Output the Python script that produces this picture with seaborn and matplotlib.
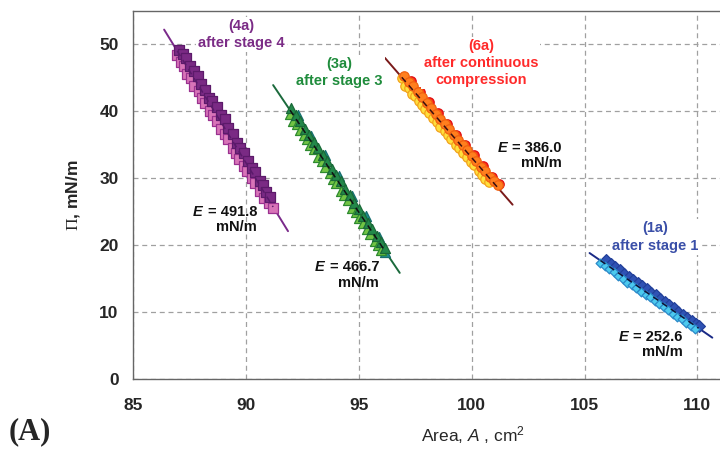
import numpy as np
import pandas as pd
import matplotlib
matplotlib.use("Agg")
import matplotlib.pyplot as plt
import seaborn as sns
from matplotlib.ticker import MultipleLocator

# ---------------- data ----------------
# (4a) after stage 4 : squares
A4_dark = [87.05, 87.2, 87.35, 87.5, 87.7, 87.85, 88.0, 88.2, 88.35, 88.5, 88.7, 88.9, 89.05,
           89.2, 89.4, 89.6, 89.75, 89.9, 90.1, 90.25, 90.4, 90.6, 90.75, 90.9, 91.05]
P4_dark = [49.2, 48.5, 47.9, 46.8, 46.0, 45.3, 44.1, 43.2, 42.0, 41.5, 40.6, 39.4, 38.8,
           37.5, 36.6, 35.3, 34.5, 33.7, 32.6, 31.5, 30.9, 29.6, 28.9, 27.9, 27.2]
A4_light = [86.95, 87.1, 87.25, 87.4, 87.55, 87.7, 87.9, 88.05, 88.2, 88.4, 88.55, 88.7, 88.9,
            89.05, 89.2, 89.4, 89.55, 89.7, 89.9, 90.05, 90.25, 90.4, 90.6, 90.8, 91.0, 91.2]
P4_light = [48.4, 47.4, 46.7, 45.6, 44.9, 43.8, 43.0, 41.9, 41.2, 40.1, 39.4, 38.5, 37.3,
            36.6, 35.8, 34.5, 33.8, 32.9, 31.8, 31.0, 30.0, 29.2, 28.1, 27.1, 26.3, 25.6]

# (3a) after stage 3 : triangles
A3_light = [91.95, 92.1, 92.25, 92.4, 92.55, 92.7, 92.85, 93.0, 93.2, 93.35, 93.5, 93.7, 93.85,
            94.0, 94.2, 94.35, 94.5, 94.7, 94.85, 95.0, 95.2, 95.35, 95.5, 95.7, 95.85, 96.0]
P3_light = [39.6, 38.6, 38.1, 37.2, 36.4, 35.9, 34.9, 34.3, 33.2, 32.6, 31.7, 30.8, 29.9,
            29.3, 28.1, 27.5, 26.8, 25.6, 25.0, 24.1, 23.3, 22.4, 21.7, 20.6, 20.0, 19.2]
A3_dark = [92.0, 92.2, 92.4, 92.6, 92.8, 93.0, 93.2, 93.4, 93.6, 93.8, 94.0, 94.2, 94.4,
           94.6, 94.8, 95.0, 95.2, 95.4, 95.6, 95.8, 96.0, 96.15]
P3_dark = [40.5, 39.4, 38.5, 37.4, 36.5, 35.4, 34.5, 33.4, 32.5, 31.4, 30.4, 29.5, 28.3,
           27.5, 26.3, 25.4, 24.4, 23.3, 22.4, 21.3, 20.4, 19.5]
A3_teal = [92.3, 92.9, 93.5, 94.1, 94.7, 95.3, 95.9, 96.15]
P3_teal = [39.4, 36.3, 33.4, 30.3, 27.3, 24.3, 21.2, 19.0]

# (6a) after continuous compression : circles
A6_yellow = [96.9, 97.05, 97.2, 97.35, 97.5, 97.65, 97.8, 97.95, 98.1, 98.3, 98.45, 98.6, 98.8,
             98.95, 99.1, 99.3, 99.45, 99.6, 99.8, 99.95, 100.1, 100.3, 100.45, 100.6, 100.75]
P6_yellow = [45.0, 43.8, 43.4, 42.6, 42.2, 41.5, 40.9, 40.4, 39.7, 39.0, 38.4, 37.7, 37.0,
             36.5, 35.8, 35.0, 34.5, 33.8, 33.1, 32.4, 31.9, 31.0, 30.5, 29.9, 29.4]
A6_orange = [97.0, 97.2, 97.4, 97.6, 97.8, 98.0, 98.2, 98.4, 98.6, 98.8, 99.0, 99.2, 99.4,
             99.6, 99.8, 100.0, 100.2, 100.4, 100.6, 100.8, 101.0, 101.15]
P6_orange = [45.3, 44.4, 43.7, 42.8, 42.1, 41.2, 40.5, 39.6, 38.9, 38.1, 37.3, 36.5, 35.7,
             34.9, 34.2, 33.3, 32.6, 31.7, 31.0, 30.2, 29.5, 29.0]
A6_red = [97.3, 97.7, 98.1, 98.5, 98.9, 99.3, 99.7, 100.1, 100.5, 100.9, 101.2]
P6_red = [44.5, 42.9, 41.3, 39.7, 38.1, 36.5, 34.9, 33.4, 31.8, 30.2, 29.1]

# (1a) after stage 1 : diamonds
A1_light = [105.7, 105.9, 106.1, 106.3, 106.5, 106.7, 106.9, 107.1, 107.3, 107.5, 107.7, 107.9,
            108.1, 108.3, 108.5, 108.7, 108.9, 109.1, 109.3, 109.5, 109.7, 109.9]
P1_light = [17.3, 16.8, 16.4, 15.9, 15.4, 15.0, 14.4, 14.0, 13.6, 13.0, 12.6, 12.2,
            11.6, 11.2, 10.7, 10.3, 9.7, 9.3, 8.9, 8.3, 7.9, 7.5]
A1_dark = [105.95, 106.15, 106.35, 106.55, 106.75, 106.95, 107.15, 107.35, 107.55, 107.75, 107.95,
           108.15, 108.35, 108.55, 108.75, 108.95, 109.15, 109.35, 109.55, 109.75, 109.95, 110.05]
P1_dark = [17.7, 17.1, 16.7, 16.3, 15.7, 15.3, 14.8, 14.3, 13.9, 13.4, 12.9,
           12.5, 11.9, 11.5, 11.0, 10.6, 10.0, 9.6, 9.1, 8.7, 8.2, 7.9]

series_labels = ["(4a)\nafter stage 4", "(3a)\nafter stage 3",
                 "(6a)\nafter continuous\ncompression", "(1a)\nafter stage 1"]
E_values = ["491.8", "466.7", "386.0", "252.6"]

x_ticks = [85, 90, 95, 100, 105, 110]
y_ticks = [0, 10, 20, 30, 40, 50]

# ---------------- style ----------------
sns.set_style("white")
plt.rcParams["font.family"] = ["Liberation Sans", "DejaVu Sans"]
plt.rcParams["mathtext.fontset"] = "custom"
plt.rcParams["mathtext.rm"] = "Liberation Serif"
plt.rcParams["mathtext.it"] = "Liberation Sans:italic"
plt.rcParams["mathtext.sf"] = "Liberation Sans"
plt.rcParams["mathtext.bf"] = "Liberation Sans:bold"

fig = plt.figure(figsize=(7.2, 4.5), dpi=100)
ax = fig.add_axes([0.185, 0.158, 0.815, 0.818])

groups = [
    # (A, P, marker, size, face, edge, group-id)
    (A4_light, P4_light, "s", 42, "#d874b8", "#9a3290", 0),
    (A4_dark, P4_dark, "s", 42, "#7a2a84", "#5c1a6a", 0),
    (A3_teal, P3_teal, "^", 52, "#1c8c8c", "#176f70", 1),
    (A3_light, P3_light, "^", 52, "#72c444", "#2e8a30", 1),
    (A3_dark, P3_dark, "^", 52, "#23884a", "#1a6a38", 1),
    (A6_red, P6_red, "o", 46, "#ff2a1e", "#e01010", 2),
    (A6_yellow, P6_yellow, "o", 46, "#ffdf3c", "#f2a21c", 2),
    (A6_orange, P6_orange, "o", 46, "#ff7f1e", "#f06010", 2),
    (A1_dark, P1_dark, "D", 36, "#2f52b4", "#22409a", 3),
    (A1_light, P1_light, "D", 20, "#4ccaee", "#2a88c8", 3),
]

line_colors = ["#7a2a8a", "#1b6a3c", "#7a1a1a", "#1a2a86"]
dash_colors = ["#5a1a6a", "#111111", "#3a1010", "#111133"]
extensions = [(0.58, 0.66), (0.75, 0.66), (0.75, 0.61), (0.48, 0.61)]

# fit lines from data
for gid in range(4):
    xs = np.concatenate([g[0] for g in groups if g[6] == gid])
    ys = np.concatenate([g[1] for g in groups if g[6] == gid])
    k, b = np.polyfit(xs, ys, 1)
    lo, hi = xs.min() - extensions[gid][0], xs.max() + extensions[gid][1]
    xx = np.array([lo, hi])
    sns.lineplot(x=xx, y=k * xx + b, color=line_colors[gid], lw=1.4, ax=ax,
                 zorder=2, legend=False)

for A, P, m, s, fc, ec, gid in groups:
    sns.scatterplot(x=A, y=P, marker=m, s=s, color=fc, edgecolor=ec,
                    linewidth=0.9, ax=ax, zorder=3, legend=False)

for gid in range(4):
    xs = np.concatenate([g[0] for g in groups if g[6] == gid])
    ys = np.concatenate([g[1] for g in groups if g[6] == gid])
    k, b = np.polyfit(xs, ys, 1)
    xx = np.array([xs.min(), xs.max()])
    sns.lineplot(x=xx, y=k * xx + b, color=dash_colors[gid], lw=1.1,
                 linestyle=(0, (4, 3)), ax=ax, zorder=4, legend=False)

# axes formatting
ax.set_xlim(85, 111)
ax.set_ylim(0, 55)
ax.set_xticks(x_ticks)
ax.set_yticks(y_ticks)
ax.xaxis.set_minor_locator(MultipleLocator(1))
ax.yaxis.set_minor_locator(MultipleLocator(2))
ax.tick_params(which="both", direction="out", length=4.5, width=0.9, color="#666666",
               top=False, right=False)
ax.tick_params(axis="x", which="major", pad=9, labelsize=12.5)
ax.tick_params(axis="y", which="major", pad=6, labelsize=12.5)
for lab in ax.get_xticklabels() + ax.get_yticklabels():
    lab.set_fontweight("bold")
ax.grid(which="major", linestyle=(0, (4, 3)), color="#a0a0a0", linewidth=0.9, zorder=0)
ax.set_axisbelow(True)
for side in ["left", "bottom", "top"]:
    ax.spines[side].set_color("#666666")
    ax.spines[side].set_linewidth(1.0)
ax.spines["right"].set_visible(False)

ax.set_xlabel(r"Area, $A$ , cm$^{\mathsf{2}}$", fontsize=12.5)
ax.xaxis.set_label_coords(0.579, -0.122)
ax.set_ylabel(r"$\mathrm{\Pi}$, mN/m", fontsize=12.5, fontweight="bold")
ax.yaxis.set_label_coords(-0.087, 0.5)

# series labels
label_pos = [(89.8, 51.5), (94.15, 45.8), (100.4, 47.2), (108.15, 21.2)]
label_colors = ["#7b2c86", "#1f8c3c", "#ff2a2a", "#3a4fa8"]
for txt, (x, y), c in zip(series_labels, label_pos, label_colors):
    ax.text(x, y, txt, ha="center", va="center", fontsize=10.5, fontweight="bold",
            color=c, linespacing=1.3, zorder=5,
            bbox=dict(facecolor="white", edgecolor="none", pad=1.5))

# modulus annotations
E_pos = [(90.49, 25.0), (95.9, 16.7), (103.98, 34.5), (109.34, 6.3)]
for val, (x, y) in zip(E_values, E_pos):
    t = ax.text(x, y, "= " + val, ha="right", va="center", fontsize=10.5,
                fontweight="bold", color="#111111", zorder=5)
    ax.annotate("E", xy=(0, 0.5), xycoords=t, xytext=(-3.5, 0), textcoords="offset points",
                ha="right", va="center", fontsize=10.5, fontweight="bold",
                fontstyle="italic", color="#111111", zorder=5)
    ax.annotate("mN/m", xy=(1, 0), xycoords=t, xytext=(0, -1), textcoords="offset points",
                ha="right", va="top", fontsize=10.5, fontweight="bold",
                color="#111111", zorder=5)

fig.text(0.012, 0.073, "(A)", fontsize=22, fontweight="bold", family="Liberation Serif",
         va="top", ha="left")

fig.savefig("out.png", dpi=100)
